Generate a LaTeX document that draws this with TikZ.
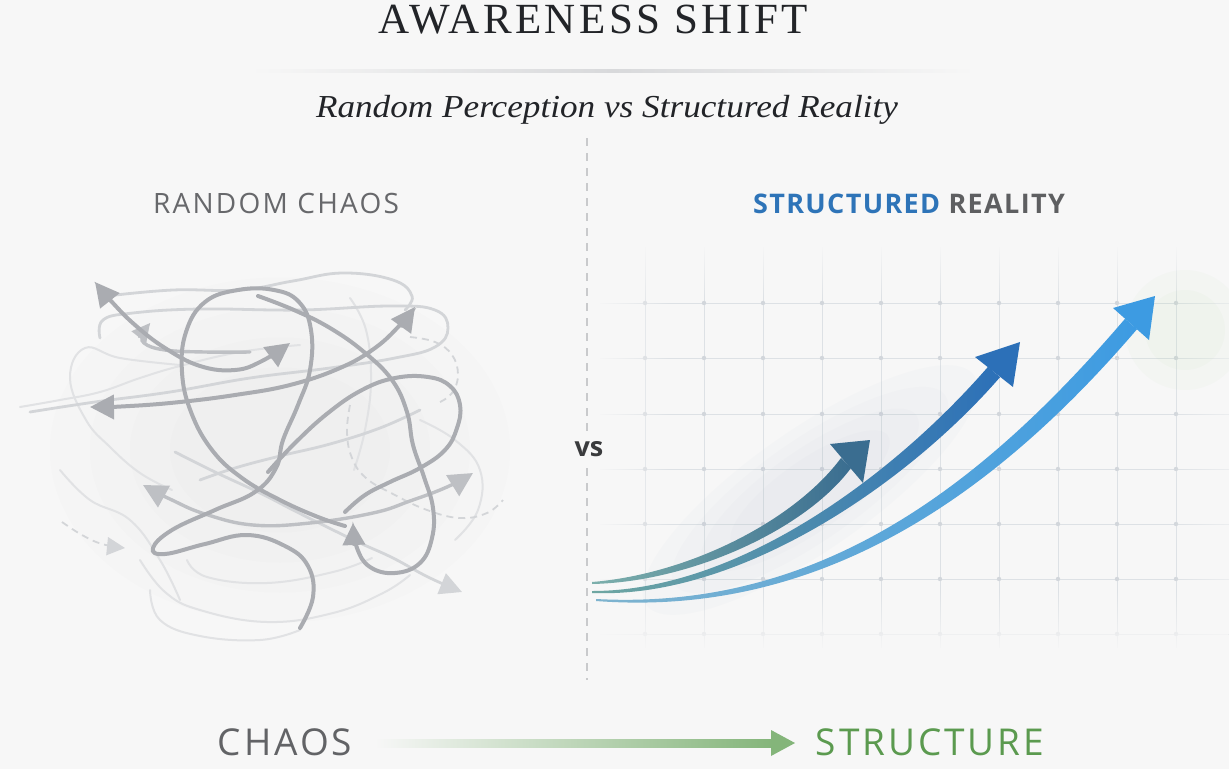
\documentclass[tikz,border=0pt]{standalone}
\usepackage{fontspec}
\setmainfont{Liberation Serif}
\newfontfamily\titlefont[LetterSpace=8]{Liberation Serif}
\newfontfamily\subfont{Liberation Serif}
\newfontfamily\labfont[LetterSpace=8]{Open Sans}
\newfontfamily\structfont[LetterSpace=5]{Open Sans}
\newfontfamily\vsfont{Open Sans}
\newfontfamily\botfont[LetterSpace=8]{Open Sans}
\usetikzlibrary{arrows.meta,fadings,calc}

\definecolor{bg}{HTML}{F7F7F7}
\definecolor{titlecol}{HTML}{222428}
\definecolor{rulecol}{HTML}{D8D9DB}
\definecolor{cdark}{HTML}{AAACB1}
\definecolor{cmid}{HTML}{BEC0C4}
\definecolor{clight}{HTML}{D3D5D8}
\definecolor{cfaint}{HTML}{E1E2E4}
\definecolor{labgray}{HTML}{67686B}
\definecolor{strblue}{HTML}{2E74B8}
\definecolor{realgray}{HTML}{5E5F61}
\definecolor{vscol}{HTML}{3A3B3D}
\definecolor{divcol}{HTML}{C9CACC}
\definecolor{gridcol}{HTML}{DDE1E5}
\definecolor{griddot}{HTML}{D2D6DB}
\definecolor{glowcol}{HTML}{9FB3C3}
\definecolor{greenglow}{HTML}{9CD08A}
\definecolor{bottomgreen}{HTML}{5B9A4F}
\definecolor{arrgreen}{HTML}{84B57A}
\definecolor{chaosgray}{HTML}{626366}
\definecolor{aOneA}{HTML}{7DB0AC}
\definecolor{aOneB}{HTML}{3A6D90}
\definecolor{aTwoA}{HTML}{6FA7A2}
\definecolor{aTwoB}{HTML}{2C70B8}
\definecolor{aThreeA}{HTML}{7FB4CF}
\definecolor{aThreeB}{HTML}{3D9BE2}

\tikzfading[name=fadetop, top color=transparent!0, bottom color=transparent!100]
\tikzfading[name=fadebot, top color=transparent!100, bottom color=transparent!0]
\tikzfading[name=fadeleft, left color=transparent!0, right color=transparent!100]
\tikzfading[name=faderight, left color=transparent!100, right color=transparent!40]

\tikzset{
  chaosD/.style={draw=cdark, line width=4pt, line cap=round},
  chaosM/.style={draw=cmid, line width=3.4pt, line cap=round},
  chaosL/.style={draw=clight, line width=2.8pt, line cap=round},
  chaosF/.style={draw=cfaint, line width=2pt, line cap=round},
  dashL/.style={draw=clight, line width=1.8pt, dash pattern=on 7pt off 5pt},
  bigtips/.style={{Triangle[length=24pt,width=24pt]}-{Triangle[length=24pt,width=24pt]}},
  endtip/.style={-{Triangle[length=22pt,width=22pt]}},
  smalltip/.style={-{Triangle[length=18pt,width=18pt]}},
  gridline/.style={draw=gridcol, line width=1pt},
  txt/.style={inner sep=0pt, anchor=base},
}

\begin{document}
\begin{tikzpicture}[x=1pt,y=-1pt]
\useasboundingbox (0,0) rectangle (1229,769);
\fill[bg] (0,0) rectangle (1229,769);

% ---------- header ----------
\node[txt, font=\titlefont\fontsize{43}{46}\selectfont, text=titlecol] (title) at (593,33) {AWARENESS SHIFT};
\shade[left color=bg, right color=bg, middle color=rulecol] (250,69) rectangle (975,72);
\node[txt, font=\subfont\itshape\fontsize{32}{36}\selectfont, text=titlecol] (subtitle) at (607,117) {\scalebox{1.1}[1]{Random Perception vs Structured Reality}};

% ---------- column labels ----------
\node[txt, font=\labfont\fontsize{28}{30}\selectfont, text=labgray] (lchaos) at (276,213) {RANDOM CHAOS};
\node[txt, font=\structfont\bfseries\fontsize{27}{30}\selectfont] (lstruct) at (909,213) {\textcolor{strblue}{STRUCTURED} \textcolor{realgray}{REALITY}};

% ---------- divider ----------
\draw[divcol, line width=1.3pt, dash pattern=on 8pt off 7pt] (587,138) -- (587,680);

% ---------- left: chaos ----------
\foreach \r in {230,190,150,110}
  \fill[gray, opacity=0.015] (280,450) ellipse ({\r} and {\r*0.75});
% faint background strands
\draw[chaosF] plot[smooth, tension=0.7] coordinates {(180,365) (120,358) (85,348) (70,378) (86,420) (110,447) (140,473) (172,490)};
\draw[chaosF] plot[smooth, tension=0.7] coordinates {(20,407) (60,400) (100,392) (140,378) (180,366) (240,352) (300,345)};
\draw[chaosF] plot[smooth, tension=0.7] coordinates {(140,560) (165,592) (200,610) (267,622) (333,613) (383,593) (410,575)};
\draw[chaosF] plot[smooth, tension=0.7] coordinates {(187,560) (207,577) (267,583) (333,572) (372,558)};
\draw[chaosF] plot[smooth, tension=0.7] coordinates {(350,298) (366,330) (371,380) (365,430) (354,470)};
\draw[chaosF] plot[smooth, tension=0.7] coordinates {(150,590) (160,620) (200,636) (260,640) (300,630)};
\draw[chaosF] plot[smooth, tension=0.7] coordinates {(60,470) (90,500) (130,520) (160,560) (180,600)};
\draw[chaosF] plot[smooth, tension=0.7] coordinates {(420,420) (455,440) (480,470) (478,510) (455,540)};
% light strands
\draw[chaosL] plot[smooth, tension=0.7] coordinates {(100,338) (103,320) (133,313) (200,309) (300,310) (390,306) (435,310) (448,328) (435,347) (395,358) (330,368) (250,378) (170,392) (95,402) (30,412)};
\draw[chaosL] plot[smooth, tension=0.7] coordinates {(107,296) (173,290) (240,290) (293,281) (343,273) (393,280) (412,296) (405,310)};
\draw[chaosL] plot[smooth, tension=0.7] coordinates {(200,480) (235,468) (280,456) (330,444) (380,428) (420,410)};
\draw[chaosL, endtip] plot[smooth, tension=0.7] coordinates {(175,452) (215,472) (260,493) (293,510) (327,527) (360,543) (393,558) (428,577) (462,592)};
% dashed strands
\draw[dashL, {-Triangle[length=18pt,width=18pt]}] plot[smooth, tension=0.7] coordinates {(62,522) (82,535) (102,544) (125,548)};
\draw[dashL] plot[smooth, tension=0.7] coordinates {(410,337) (435,342) (452,355) (458,375) (452,393) (440,402)};
\draw[dashL] plot[smooth, tension=0.7] coordinates {(350,405) (347,432) (352,458) (366,478) (393,494) (427,510) (460,518) (487,513) (503,500)};
% medium strands
\draw[chaosM, smalltip] plot[smooth, tension=0.7] coordinates {(250,352) (205,352) (165,350) (144,343) (144,333) (150,323)};
\draw[chaosM, bigtips] plot[smooth, tension=0.7] coordinates {(143,485) (172,500) (205,514) (253,525) (310,523) (373,513) (410,501) (447,487) (473,473)};
% dark strands
\draw[chaosD] plot[smooth, tension=0.7] coordinates {(300,628) (313,597) (308,566) (285,546) (247,535) (205,544) (165,554) (153,548) (172,530) (215,510) (255,492) (276,468) (283,440) (298,405) (310,370) (311,330) (299,302) (274,290) (238,290) (205,302) (186,332) (182,372) (191,412) (212,450) (242,478) (280,500) (318,517) (345,526)};
\draw[chaosD] plot[smooth, tension=0.7] coordinates {(268,472) (295,443) (328,413) (362,390) (395,378) (428,377) (450,386) (460,405) (457,428) (445,450) (420,468) (390,482) (365,495) (345,512)};
\draw[chaosD, endtip] plot[smooth, tension=0.7] coordinates {(258,296) (294,310) (330,328) (364,352) (392,380) (407,412) (413,445) (424,477) (433,508) (432,538) (420,563) (395,573) (370,567) (357,548) (353,523)};
\draw[chaosD, bigtips] plot[smooth, tension=0.7] coordinates {(95,282) (112,302) (135,325) (165,348) (200,366) (235,370) (262,361) (290,343)};
\draw[chaosD, bigtips] plot[smooth, tension=0.7] coordinates {(90,407) (130,406) (180,402) (235,395) (290,385) (340,368) (375,348) (400,325) (415,307)};

% ---------- right: structure ----------
\foreach \x in {645,704,763,822,881,940,999,1058,1117,1176}
  \draw[gridline] (\x,247) -- (\x,648);
\foreach \y in {303,358,414,469,524,579,634}
  \draw[gridline] (600,\y) -- (1229,\y);
\foreach \x in {645,704,763,822,881,940,999,1058,1117,1176}
  \foreach \y in {303,358,414,469,524,579,634}
    \fill[griddot] (\x,\y) circle (2.2);
\fill[bg, path fading=fadetop] (596,244) rectangle (1229,300);
\fill[bg, path fading=fadebot] (596,590) rectangle (1229,652);
\fill[bg, path fading=fadeleft] (596,244) rectangle (670,652);
\fill[bg, path fading=faderight] (1170,244) rectangle (1229,652);

% vs label
\node[txt, font=\vsfont\bfseries\fontsize{27}{30}\selectfont, text=vscol, fill=bg, inner sep=5pt] (vs) at (589,456) {vs};

% soft glow behind the arrows
\begin{scope}[shift={(810,490)}, rotate=35]
  \foreach \a/\b in {200/60,165/50,130/40,95/30}
    \fill[glowcol, opacity=0.035] (0,0) ellipse ({\a} and {\b});
\end{scope}
\foreach \r in {60,40}
  \fill[greenglow, opacity=0.04] (1185,330) circle (\r);

% arrow 1 (small)
\shade[left color=aOneA, right color=aOneB]
  (592,582) .. controls (690,574) and (795,520) .. (841,458) -- (851,468)
  .. controls (805,530) and (690,582) .. (592,584) -- cycle;
\fill[aOneB] (830,444) -- (870,440) -- (863,483) -- cycle;
% arrow 2 (middle)
\shade[left color=aTwoA, right color=aTwoB]
  (592,591) .. controls (740,591) and (896,472.8) .. (988,366.8) -- (1000,377.2)
  .. controls (908,483.2) and (740,599) .. (592,593) -- cycle;
\fill[aTwoB] (975,357) -- (1020,342) -- (1013,387) -- cycle;
% arrow 3 (large)
\shade[left color=aThreeA, right color=aThreeB]
  (596,599) .. controls (820,611) and (982,485.8) .. (1125,318.8) -- (1137,329.2)
  .. controls (994,496.2) and (820,618) .. (596,601) -- cycle;
\fill[aThreeB] (1113,308) -- (1155,296) -- (1149,340) -- cycle;

% ---------- bottom ----------
\node[txt, font=\botfont\fontsize{37}{40}\selectfont, text=chaosgray] (bchaos) at (285,755) {CHAOS};
\node[txt, font=\botfont\fontsize{37}{40}\selectfont, text=bottomgreen] (bstruct) at (930,755) {STRUCTURE};
\coordinate (bs) at (375,743);
\coordinate (bh) at (771,743);
\coordinate (be) at (795,743);
\shade[left color=bg, right color=arrgreen] ($(bs)+(0,-4)$) rectangle ($(bh)+(1,4)$);
\fill[arrgreen] ($(bh)+(0,-13)$) -- (be) -- ($(bh)+(0,13)$) -- cycle;
\end{tikzpicture}
\end{document}
